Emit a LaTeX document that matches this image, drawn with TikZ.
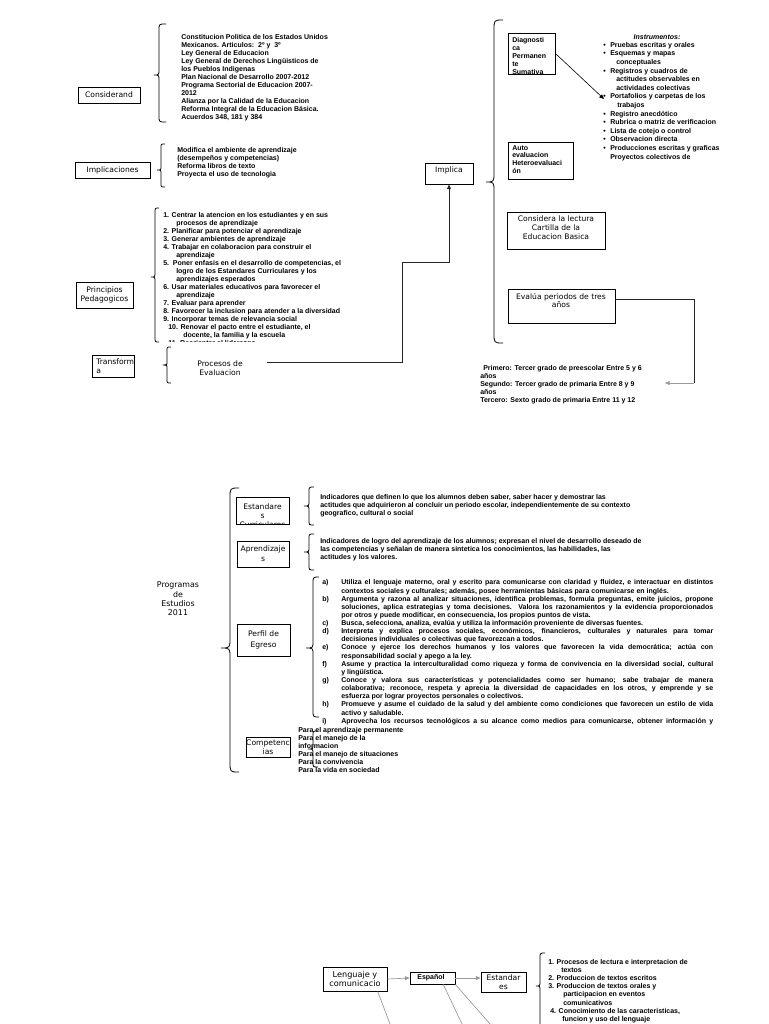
\documentclass[tikz,border=0pt]{standalone}
\usepackage{fontspec}
\setmainfont{Liberation Sans}
\newfontfamily\djv{DejaVu Sans}
\usetikzlibrary{arrows.meta,fit,calc}
\newlength\pxl \setlength\pxl{0.75pt}
\newcommand\myind[1]{\hspace*{#1\pxl}}
\newcommand\listfont{\fontsize{5.25}{6}\selectfont\bfseries}
\newcommand\lblfont{\djv\fontsize{5.7}{6.75}\selectfont}
\newcommand\bul{\makebox[7\pxl][l]{\textbullet}}
\newcommand\cbrace[7]{\draw[brc] ({#1+#5},#2) .. controls (#1,#2) .. (#1,{#2+#7}) -- (#1,{#3-#7}) .. controls (#1,#3) .. ({#1-#6},#3) .. controls (#1,#3) .. (#1,{#3+#7}) -- (#1,{#4-#7}) .. controls (#1,#4) .. ({#1+#5},#4);}
\newcommand\boxfit[5]{\node[bxs, fit={(#2,#3) (#4,#5)}] (#1) {};}
\newcommand\itm[1]{\par\noindent\hangindent=19\pxl\hangafter=1\makebox[19\pxl][l]{#1}}
\begin{document}
\begin{tikzpicture}[x=0.75pt,y=-0.75pt,
  bxs/.style={draw=black, line width=0.7pt, fill=white, inner sep=0pt},
  lbl/.style={font=\lblfont, align=center, inner sep=0pt},
  lst/.style={font=\listfont, align=left, inner sep=0pt, anchor=north west},
  brc/.style={draw=black, line width=0.6pt},
  conn/.style={draw=black!85, line width=0.75pt},
  thinblack/.style={draw=black, line width=0.45pt},
  greyc/.style={draw=black!40, line width=0.5pt},
  arr/.style={-{Triangle[length=3.5pt,width=3pt]}}]
\fill[white] (0,0) rectangle (768,1024);
\useasboundingbox (0,0) rectangle (768,1024);

% ---------- top left ----------
\boxfit{cons}{78}{87}{140}{103}
\node[lbl] (cons-t) at (cons.center) {Considerand};
\cbrace{159}{24}{75}{122}{7}{5}{6}
\node[lst] (cons-d) at (181,34) {Constitucion Politica de los Estados Unidos\\Mexicanos. Articulos:\ \ 2º y\ \ 3º\\Ley General de Educacion\\Ley General de Derechos Lingüisticos de\\los Pueblos Indigenas\\Plan Nacional de Desarrollo 2007-2012\\Programa Sectorial de Educacion 2007-\\2012\\Alianza por la Calidad de la Educacion\\Reforma Integral de la Educacion Básica.\\Acuerdos 348, 181 y 384};

\boxfit{impl}{75}{162}{150}{178}
\node[lbl] (impl-t) at (impl.center) {Implicaciones};
\cbrace{161}{144}{170}{187}{4}{4}{4}
\node[lst] (impl-d) at (177,147) {Modifica el ambiente de aprendizaje\\(desempeños y competencias)\\Reforma libros de texto\\Proyecta el uso de tecnologia};

\boxfit{princ}{76}{282}{133}{308}
\node[lbl] (princ-t) at (princ.center) {Principios\\Pedagogicos};
\cbrace{155}{208}{277}{342}{4}{4}{5}
\begin{scope}
\clip (140,200) rectangle (420,341.5);
\node[lst] (princ-d) at (163,212) {1. Centrar la atencion en los estudiantes y en sus\\\myind{13}procesos de aprendizaje\\2. Planificar para potenciar el aprendizaje\\3. Generar ambientes de aprendizaje\\4. Trabajar en colaboracion para construir el\\\myind{13}aprendizaje\\5.\ \ Poner enfasis en el desarrollo de competencias, el\\\myind{13}logro de los Estandares Curriculares y los\\\myind{13}aprendizajes esperados\\6. Usar materiales educativos para favorecer el\\\myind{13}aprendizaje\\7. Evaluar para aprender\\8. Favorecer la inclusion para atender a la diversidad\\9. Incorporar temas de relevancia social\\\myind{5}10. Renovar el pacto entre el estudiante, el\\\myind{20}docente, la familia y la escuela\\\myind{5}11. Reorientar el liderazgo};
\end{scope}

\boxfit{transf}{92}{355}{134}{377}
\node[lbl, align=left, anchor=north west] (transf-t) at (96,358) {Transform\\a};
\cbrace{167}{347}{365}{383}{4}{3}{4}
\node[lbl, minimum width=70.5pt] (proc) at (220,368) {Procesos de\\Evaluacion};

% ---------- top right ----------
\boxfit{implica}{425}{163}{473}{184}
\node[lbl] (implica-t) at (449,170) {Implica};
\coordinate (procout) at (267,362);
\coordinate (bend) at (402,262);
\draw[conn, arr] (procout) -| (bend) -| (implica.south);
\cbrace{494}{20}{182}{343}{9}{8}{10}

\boxfit{diag}{508}{33}{555}{74}
\begin{scope}
\clip (diag.south west) rectangle (diag.north east);
\node[lst] (diag-t) at (512,37) {Diagnosti\\ca\\Permanen\\te\\Sumativa};
\end{scope}
\coordinate (instrin) at (604,99);
\draw[thinblack, arr] (diag.east) -- (instrin);
\node[font=\listfont\itshape, inner sep=0pt] (instr-h) at (657,37) {Instrumentos:};
\node[lst, font=\fontsize{5.25}{6.45}\selectfont\bfseries] (instr) at (603,42) {\bul Pruebas escritas y orales\\\bul Esquemas y mapas\\\myind{13}conceptuales\\\bul Registros y cuadros de\\\myind{13}actitudes observables en\\\myind{13}actividades colectivas\\\bul Portafolios y carpetas de los\\\myind{14}trabajos\\\bul Registro anecdótico\\\bul Rubrica o matriz de verificacion\\\bul Lista de cotejo o control\\\bul Observacion directa\\\bul Producciones escritas y graficas\\\myind{7}Proyectos colectivos de};

\boxfit{auto}{508}{142}{573}{179}
\begin{scope}
\clip (auto.south west) rectangle (auto.north east);
\node[lst, font=\fontsize{5.25}{5.8}\selectfont\bfseries] (auto-t) at (512,145) {Auto\\evaluacion\\Heteroevaluaci\\ón};
\end{scope}

\boxfit{lect}{507}{212}{605}{249}
\node[lbl] (lect-t) at (556,228) {Considera la lectura\\Cartilla de la\\Educacion Basica};

\boxfit{eval}{508}{289}{615}{323}
\node[lbl, anchor=north, font=\djv\fontsize{5.7}{6}\selectfont] (eval-t) at (561,293) {Evalúa periodos de tres\\años};
\coordinate (evcorner) at (694,383);
\coordinate (primin) at (665,383);
\draw[conn] ([yshift=5.25pt]eval.east) -| (evcorner);
\draw[greyc, arr] (evcorner) -- (primin);
\node[lst] (prim) at (480,365) {\myind{3}Primero: Tercer grado de preescolar Entre 5 y 6\\años\\Segundo: Tercer grado de primaria Entre 8 y 9\\años\\Tercero: Sexto grado de primaria Entre 11 y 12};

% ---------- middle ----------
\node[lbl, font=\djv\fontsize{5.9}{7}\selectfont] (prog) at (178,599) {Programas\\de\\Estudios\\2011};
\cbrace{230}{488}{648}{772}{9}{9}{10}

\boxfit{est}{236}{497}{289}{524}
\begin{scope}
\clip (est.south west) rectangle (est.north east);
\node[lbl, anchor=north] (est-t) at (262.5,503) {Estandare\\s\\Curriculares};
\end{scope}
\cbrace{309}{487}{506}{525}{5}{5}{5}
\node[lst] (est-d) at (320,494) {Indicadores que definen lo que los alumnos deben saber, saber hacer y demostrar las\\actitudes que adquirieron al concluir un periodo escolar, independientemente de su contexto\\geografico, cultural o social};

\boxfit{apr}{237}{541}{289}{567}
\node[lbl, font=\djv\fontsize{5.7}{7.5}\selectfont] (apr-t) at (263,554) {Aprendizaje\\s};
\cbrace{309}{534}{552}{570}{5}{5}{5}
\node[lst] (apr-d) at (320,538) {Indicadores de logro del aprendizaje de los alumnos; expresan el nivel de desarrollo deseado de\\las competencias y señalan de manera sintetica los conocimientos, las habilidades, las\\actitudes y los valores.};

\boxfit{perf}{237}{624}{290}{656}
\node[lbl, font=\djv\fontsize{5.7}{8.25}\selectfont] (perf-t) at (263.5,640) {Perfil de\\Egreso};
\cbrace{313}{577}{648}{717}{6}{7}{7}
\node[lst, text width=293.25pt, align=justify, font=\fontsize{5.25}{6.1}\selectfont\bfseries] (perf-d) at (322,576.5) {%
\itm{a)}Utiliza el lenguaje materno, oral y escrito para comunicarse con claridad y fluidez, e interactuar en distintos\linebreak contextos sociales y culturales; además, posee herramientas básicas para comunicarse en inglés.
\itm{b)}Argumenta y razona al analizar situaciones, identifica problemas, formula preguntas, emite juicios, propone\linebreak soluciones, aplica estrategias y toma decisiones. Valora los razonamientos y la evidencia proporcionados\linebreak por otros y puede modificar, en consecuencia, los propios puntos de vista.
\itm{c)}Busca, selecciona, analiza, evalúa y utiliza la información proveniente de diversas fuentes.
\itm{d)}Interpreta y explica procesos sociales, económicos, financieros, culturales y naturales para tomar\linebreak decisiones individuales o colectivas que favorezcan a todos.
\itm{e)}Conoce y ejerce los derechos humanos y los valores que favorecen la vida democrática; actúa con\linebreak responsabilidad social y apego a la ley.
\itm{f)}Asume y practica la interculturalidad como riqueza y forma de convivencia en la diversidad social, cultural\linebreak y lingüística.
\itm{g)}Conoce y valora sus características y potencialidades como ser humano; sabe trabajar de manera\linebreak colaborativa; reconoce, respeta y aprecia la diversidad de capacidades en los otros, y emprende y se\linebreak esfuerza por lograr proyectos personales o colectivos.
\itm{h)}Promueve y asume el cuidado de la salud y del ambiente como condiciones que favorecen un estilo de vida\linebreak activo y saludable.
\itm{i)}Aprovecha los recursos tecnológicos a su alcance como medios para comunicarse, obtener información y\parfillskip=0pt\par};

\boxfit{comp}{246}{737}{290}{757}
\begin{scope}
\clip (comp.south west) rectangle (comp.north east);
\node[lbl, anchor=north] (comp-t) at (268,740) {Competenc\\ias};
\end{scope}
\cbrace{313}{731}{749}{767}{5}{5}{5}
\node[lst] (comp-d) at (298,727.5) {Para el aprendizaje permanente\\Para el manejo de la\\informacion\\Para el manejo de situaciones\\Para la convivencia\\Para la vida en sociedad};

% ---------- bottom ----------
\boxfit{leng}{323}{967}{387}{991}
\node[lbl, font=\djv\fontsize{6.1}{6.75}\selectfont] (leng-t) at (leng.center) {Lenguaje y\\comunicacio};
\boxfit{esp}{410}{972}{455}{984}
\node[font=\listfont, inner sep=0pt] (esp-t) at (431,977.5) {Español};
\boxfit{estb}{481}{972}{526}{992}
\node[lbl] (estb-t) at (estb.center) {Estandar\\es};
\draw[greyc, arr] (leng.east) -- (esp.west);
\draw[greyc, arr] (esp.east) -- (esp.east -| estb.west);
\coordinate (d1) at (390,1024);
\coordinate (d2) at (462,1024);
\coordinate (d3) at (490,1024);
\draw[greyc] ($(leng.south)!0.7!(leng.south east)$) -- (d1);
\draw[greyc] ($(esp.south)!0.47!(esp.south east)$) -- (d2);
\draw[greyc] (esp.south east) -- (d3);
\cbrace{540}{953}{986}{1040}{5}{4}{5}
\node[lst, font=\fontsize{5.25}{6.1}\selectfont\bfseries] (estb-d) at (548,959) {1. Procesos de lectura e interpretacion de\\\myind{13}textos\\2. Produccion de textos escritos\\3. Produccion de textos orales y\\\myind{15}participacion en eventos\\\myind{15}comunicativos\\\myind{2}4. Conocimiento de las caracteristicas,\\\myind{14}funcion y uso del lenguaje};
\end{tikzpicture}
\end{document}
